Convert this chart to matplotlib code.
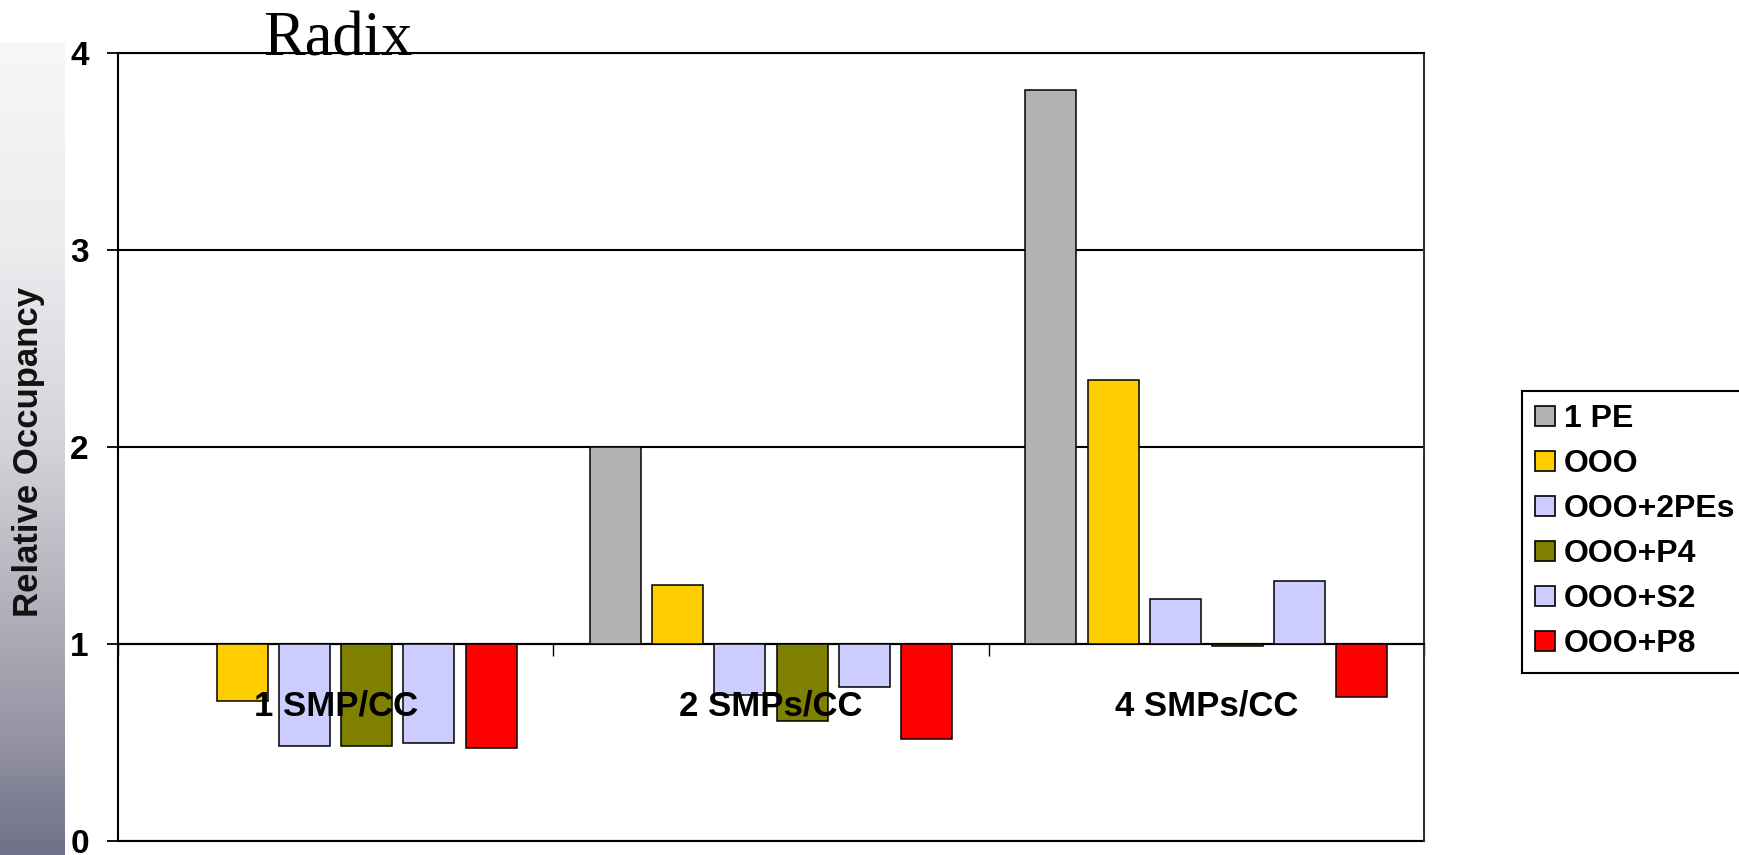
import numpy as np
import matplotlib
matplotlib.use("Agg")
import matplotlib.pyplot as plt
from matplotlib.patches import Patch
from matplotlib.colors import LinearSegmentedColormap

# Data
categories = ["1 SMP/CC", "2 SMPs/CC", "4 SMPs/CC"]
series_names = ["1 PE", "OOO", "OOO+2PEs", "OOO+P4", "OOO+S2", "OOO+P8"]
one_pe    = [1.00, 2.00, 3.81]
ooo       = [0.71, 1.30, 2.34]
ooo_2pes  = [0.48, 0.74, 1.23]
ooo_p4    = [0.48, 0.61, 0.99]
ooo_s2    = [0.50, 0.78, 1.32]
ooo_p8    = [0.47, 0.52, 0.73]
series_values = [one_pe, ooo, ooo_2pes, ooo_p4, ooo_s2, ooo_p8]
series_colors = ["#B2B2B2", "#FFCC00", "#CCCCFF", "#808000", "#CCCCFF", "#FF0000"]
y_ticks = [0, 1, 2, 3, 4]
baseline = 1.0

W, H = 1740, 855
fig = plt.figure(figsize=(W / 100, H / 100), dpi=100)
fig.patch.set_facecolor("white")

# Shaded band on the left edge
band = fig.add_axes([0, 0, 65 / W, (H - 42) / H])
band.set_axis_off()
stops = [(0.0, (112, 112, 136)), (115 / 813, (148, 148, 164)), (205 / 813, (168, 168, 180)),
         (405 / 813, (210, 210, 216)), (605 / 813, (236, 236, 239)), (1.0, (247, 247, 248))]
cmap = LinearSegmentedColormap.from_list(
    "band", [(p, tuple(c / 255 for c in rgb)) for p, rgb in stops])
grad = np.linspace(0, 1, 512).reshape(-1, 1)
band.imshow(grad, aspect="auto", cmap=cmap, origin="lower", extent=[0, 1, 0, 1])

# Main plot area
ax = fig.add_axes([118 / W, 1 - 841 / H, (1424 - 118) / W, (841 - 53) / H])
ax.set_xlim(-0.5, len(categories) - 0.5)
ax.set_ylim(0, 4)

slot = 0.1428
bar_w = 0.117
x = np.arange(len(categories))
n = len(series_values)
for i, (vals, col) in enumerate(zip(series_values, series_colors)):
    heights = [v - baseline for v in vals]
    ax.bar(x + (i - (n - 1) / 2) * slot, heights, width=bar_w, bottom=baseline,
           color=col, edgecolor="black", linewidth=1.1, zorder=3)

ax.set_axisbelow(True)
ax.set_yticks(y_ticks)
ax.set_yticklabels([str(t) for t in y_ticks])
ax.yaxis.grid(True, color="black", linewidth=1.5)
ax.tick_params(axis="y", direction="out", length=8, width=1.3, pad=13,
               labelsize=24, colors="black")
for lab in ax.get_yticklabels():
    lab.set_fontfamily("Liberation Sans")
    lab.set_fontweight("bold")

# Category axis crossing at the baseline
ax.spines["bottom"].set_position(("data", baseline))
for side in ("bottom", "top", "left", "right"):
    ax.spines[side].set_linewidth(1.5)
ax.spines["right"].set_color("#333333")
ax.axhline(0, color="black", linewidth=1.5, clip_on=False, zorder=2)
ax.set_xticks(np.arange(-0.5, len(categories), 1.0))
ax.set_xticklabels([])
ax.tick_params(axis="x", direction="out", length=8.5, width=1.0)

for xi, cat in zip(x, categories):
    ax.annotate(cat, xy=(xi, baseline), xycoords="data", xytext=(0, -62),
                textcoords="offset pixels", ha="center", va="center",
                fontsize=25, fontweight="bold", fontfamily="Liberation Sans",
                zorder=5)

# Titles
fig.text(263 / W, 1 - 55 / H, "Radix", ha="left", va="baseline",
         fontsize=45, fontfamily="Liberation Serif", color="black")
fig.text(29 / W, 1 - 452 / H, "Relative Occupancy", rotation=90,
         ha="center", va="center", fontsize=25, fontweight="bold",
         fontfamily="Liberation Sans", color="#111111")

# Legend
handles = [Patch(facecolor=c, edgecolor="black", linewidth=1.2) for c in series_colors]
leg = fig.legend(handles, series_names, loc="upper left",
                 bbox_to_anchor=(1522 / W, 1 - 391 / H), bbox_transform=fig.transFigure,
                 frameon=True, fancybox=False, edgecolor="black", framealpha=1,
                 borderaxespad=0, borderpad=0.42, handlelength=0.6, handleheight=0.6,
                 handletextpad=0.28, labelspacing=0.47,
                 prop={"family": "Liberation Sans", "weight": "bold", "size": 23})
leg.get_frame().set_linewidth(1.5)

fig.savefig("out.png", dpi=100)
